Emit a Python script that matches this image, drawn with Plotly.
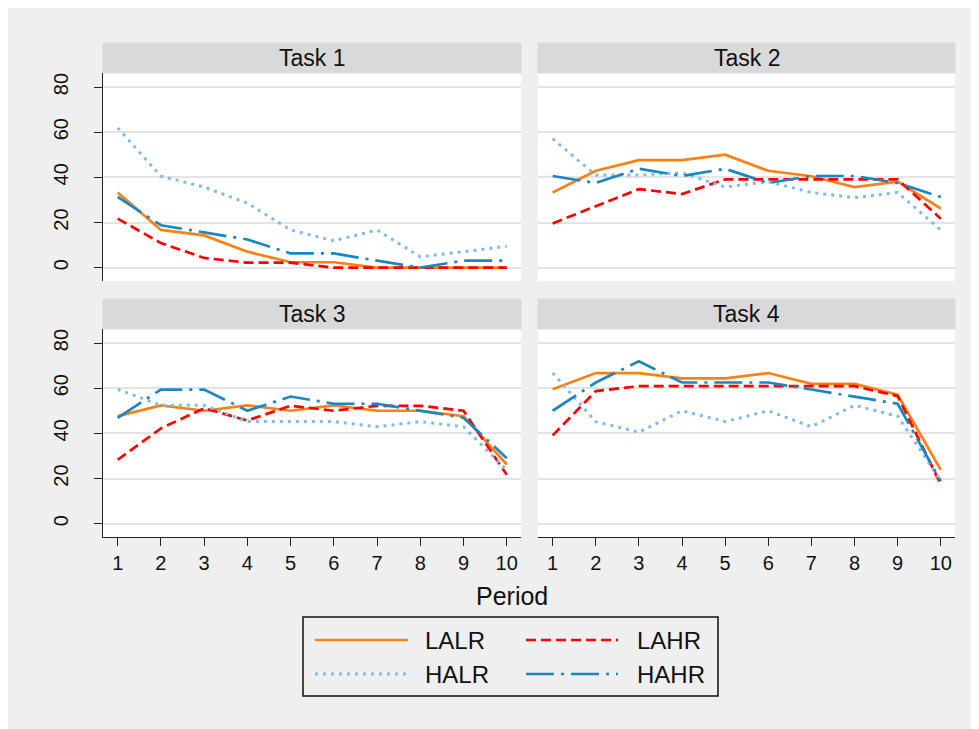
import plotly.graph_objects as go

W, H = 979, 729
periods = list(range(1, 11))
tasks = ["Task 1", "Task 2", "Task 3", "Task 4"]
series_names = ["LALR", "LAHR", "HALR", "HAHR"]

# values (%)
LALR = [
    [33.3, 16.7, 14.3, 7.1, 2.4, 2.4, 0, 0, 0, 0],
    [33.3, 42.9, 47.6, 47.6, 50.0, 42.9, 40.5, 35.7, 38.1, 26.2],
    [47.6, 52.4, 50.0, 52.4, 50.0, 52.4, 50.0, 50.0, 47.6, 26.2],
    [59.5, 66.7, 66.7, 64.3, 64.3, 66.7, 61.9, 61.9, 57.1, 23.8],
]
LAHR = [
    [21.7, 10.9, 4.3, 2.2, 2.2, 0, 0, 0, 0, 0],
    [19.6, 27.2, 34.8, 32.6, 39.1, 39.1, 39.1, 39.1, 39.1, 21.7],
    [28.3, 42.2, 51.1, 45.7, 52.2, 50.0, 52.2, 52.2, 50.0, 21.7],
    [39.1, 58.7, 60.9, 60.9, 60.9, 60.9, 60.9, 60.9, 56.5, 17.4],
]
HALR = [
    [61.9, 40.5, 35.7, 28.6, 16.7, 11.9, 16.7, 4.8, 7.1, 9.5],
    [57.1, 41.0, 41.0, 42.0, 35.7, 38.1, 33.3, 31.0, 33.3, 16.7],
    [59.5, 52.4, 52.4, 45.2, 45.2, 45.2, 42.9, 45.2, 42.9, 23.8],
    [66.7, 45.2, 40.5, 50.0, 45.2, 50.0, 42.9, 52.4, 47.6, 19.0],
]
HAHR = [
    [31.3, 18.8, 15.6, 12.5, 6.3, 6.3, 3.1, 0, 3.1, 3.1],
    [40.6, 37.5, 43.8, 40.6, 43.8, 37.5, 40.6, 40.6, 37.5, 31.3],
    [46.9, 59.4, 59.4, 50.0, 56.3, 53.1, 53.1, 50.0, 46.9, 29.0],
    [50.0, 62.5, 71.9, 62.5, 62.5, 62.5, 59.4, 56.3, 53.1, 18.8],
]
y_ticks = [0, 20, 40, 60, 80]

data = {"LALR": LALR, "LAHR": LAHR, "HALR": HALR, "HAHR": HAHR}
styles = {
    "LALR": dict(color="#FA8214", width=2.7, dash="solid"),
    "LAHR": dict(color="#FF0000", width=2.7, dash="10px,5px"),
    "HALR": dict(color="#80BBE6", width=3.0, dash="3px,5px"),
    "HAHR": dict(color="#1A88BF", width=2.7, dash="28px,7px,3px,7px"),
}

FONT = "Liberation Sans, Arial, sans-serif"
BG = "#EFEFEF"
OFF = 8  # page body margin

def px(x):
    return (x - OFF) / W

def py(y):
    return 1 - (y - OFF) / H

# panel geometry (window pixels)
cols = [(103, 521), (538, 955)]
rows = [(73, 281), (329, 537)]
strip_h = 30

fig = go.Figure()
for i, task in enumerate(tasks):
    ax = "" if i == 0 else str(i + 1)
    for name in series_names:
        fig.add_trace(go.Scatter(
            x=periods, y=data[name][i], mode="lines", name=name,
            line=styles[name], showlegend=False,
            xaxis="x" + ax, yaxis="y" + ax,
        ))

layout = dict(
    width=W, height=H,
    margin=dict(l=0, r=0, t=0, b=0),
    paper_bgcolor=BG, plot_bgcolor="white",
    font=dict(family=FONT, color="#111111"),
    showlegend=False,
)
shapes = []
annotations = []
for i, task in enumerate(tasks):
    r, c = divmod(i, 2)
    ax = "" if i == 0 else str(i + 1)
    x0, x1 = cols[c]
    y0, y1 = rows[r]
    bottom = r == 1
    left = c == 0
    layout["xaxis" + ax] = dict(
        domain=[px(x0), px(x1)], range=[0.66, 10.33], anchor="y" + ax,
        tickmode="array", tickvals=periods, ticktext=[str(p) for p in periods],
        showticklabels=bottom, ticks="outside" if bottom else "",
        ticklen=8, tickwidth=1.3, tickcolor="#222",
        showline=bottom, linecolor="#222", linewidth=1.3,
        showgrid=False, zeroline=False,
        tickfont=dict(size=20, family=FONT, color="#111"),
        fixedrange=True,
    )
    layout["yaxis" + ax] = dict(
        domain=[py(y1), py(y0)], range=[-5.9, 86.2], anchor="x" + ax,
        tickmode="array", tickvals=y_ticks,
        showticklabels=left, ticks="outside" if left else "",
        ticklen=8, tickwidth=1.3, tickcolor="#222",
        showline=left, linecolor="#222", linewidth=1.3,
        showgrid=True, gridcolor="#E4E4E4", gridwidth=2, zeroline=False,
        tickangle=-90, ticklabelstandoff=18,
        tickfont=dict(size=20, family=FONT, color="#111"),
        fixedrange=True,
    )
    # strip
    shapes.append(dict(type="rect", xref="paper", yref="paper",
                       x0=px(x0), x1=px(x1), y0=py(y0), y1=py(y0 - strip_h),
                       fillcolor="#D9D9D9", line=dict(color="#D2DCE3", width=1),
                       layer="below"))
    annotations.append(dict(text=task, xref="paper", yref="paper",
                            x=px((x0 + x1) / 2), y=py(y0 - strip_h / 2),
                            showarrow=False, xanchor="center", yanchor="middle",
                            font=dict(size=23, family=FONT, color="#111")))

# x-axis title
annotations.append(dict(text="Period", xref="paper", yref="paper",
                        x=px(512), y=py(596), showarrow=False,
                        xanchor="center", yanchor="middle",
                        font=dict(size=25, family=FONT, color="#111")))

# legend box
shapes.append(dict(type="rect", xref="paper", yref="paper",
                   x0=px(303), x1=px(718), y0=py(696), y1=py(617),
                   fillcolor=BG, line=dict(color="#111", width=1.5)))
legend_pos = {
    "LALR": (315, 408, 423, 640),
    "LAHR": (526, 618, 635, 640),
    "HALR": (315, 408, 423, 674),
    "HAHR": (526, 618, 635, 674),
}
for name, (lx0, lx1, tx, ly) in legend_pos.items():
    st = styles[name]
    shapes.append(dict(type="line", xref="paper", yref="paper",
                       x0=px(lx0), x1=px(lx1), y0=py(ly), y1=py(ly),
                       line=dict(color=st["color"], width=st["width"], dash=st["dash"])))
    annotations.append(dict(text=name, xref="paper", yref="paper",
                            x=px(tx), y=py(ly), showarrow=False,
                            xanchor="left", yanchor="middle",
                            font=dict(size=24, family=FONT, color="#111")))

layout["shapes"] = shapes
layout["annotations"] = annotations
fig.update_layout(**layout)
fig.write_html("out.html")
